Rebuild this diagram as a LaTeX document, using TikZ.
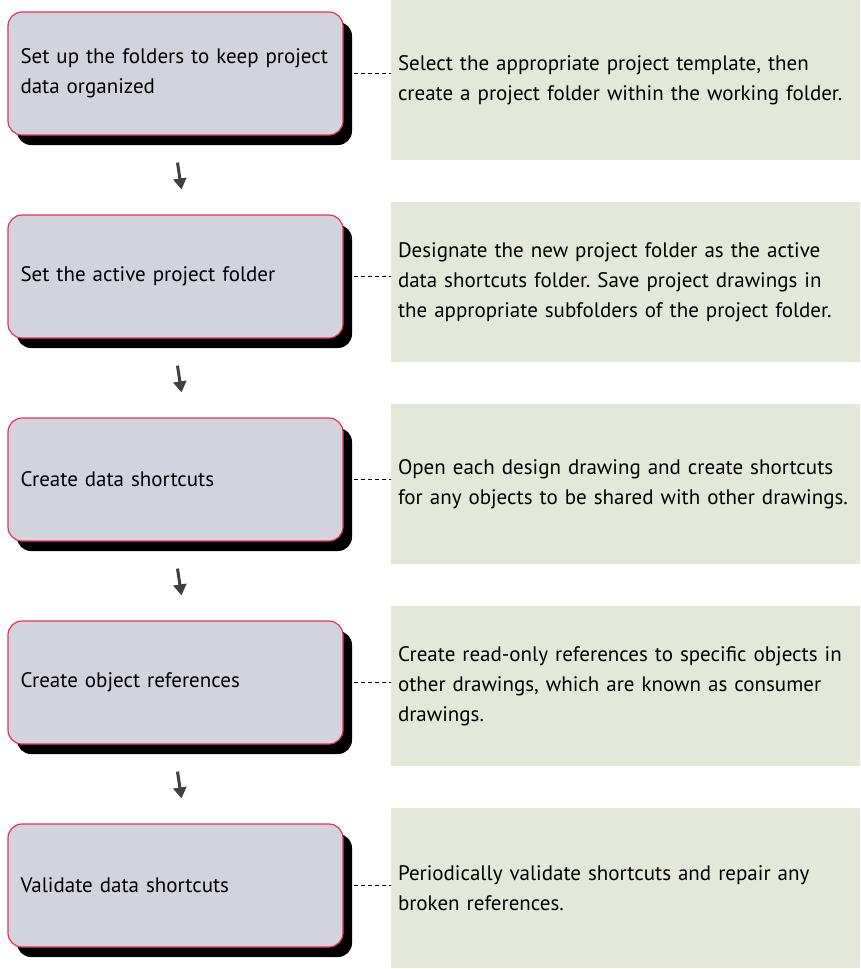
\documentclass[tikz,border=0pt]{standalone}
\usepackage{fontspec}
\setmainfont{PT Sans}
\usetikzlibrary{shadows,arrows.meta}
\definecolor{stepgray}{RGB}{211,211,222}
\definecolor{stepred}{RGB}{228,52,84}
\definecolor{notegreen}{RGB}{228,232,218}
\definecolor{arrowgray}{RGB}{64,64,64}
\tikzset{
	stepbox/.style={draw=stepred, line width=1.2pt, fill=stepgray, rounded corners=14pt,
		minimum width=335pt, minimum height=123pt, text width=310pt, inner xsep=12.5pt, align=left,
		drop shadow={shadow xshift=9pt, shadow yshift=-10pt, fill=black, opacity=1}},
	notebox/.style={fill=notegreen, minimum width=469pt, minimum height=160pt,
		text width=455pt, inner xsep=7pt, align=left},
	link/.style={black, line width=0.9pt, dash pattern=on 4pt off 3pt},
	flow/.style={arrowgray, line width=3pt, -{Triangle[width=13pt,length=11pt]}}
}
\begin{document}
\begin{tikzpicture}[x=1pt, y=-1pt, font=\fontsize{21}{30}\selectfont\frenchspacing]
		%%%%% START %%%%%
		\useasboundingbox (0, 0) rectangle (860, 969);
		
		\node[stepbox] (s1) at (175.5, 73.5) {Set up the folders to keep project\\data organized};
		\node[notebox] (n1) at (625.5, 80) {Select the appropriate project template, then\\create a project folder within the working folder.};
		
		\node[stepbox] (s2) at (175.5, 276.5) {Set the active project folder};
		\node[notebox] (n2) at (625.5, 282) {Designate the new project folder as the active\\data shortcuts folder. Save project drawings in\\the appropriate subfolders of the project folder.};
		
		\node[stepbox] (s3) at (175.5, 479.5) {Create data shortcuts};
		\node[notebox] (n3) at (625.5, 484) {Open each design drawing and create shortcuts\\for any objects to be shared with other drawings.};
		
		\node[stepbox] (s4) at (175.5, 682.5) {Create object references};
		\node[notebox] (n4) at (625.5, 686) {Create read-only references to specific objects in\\other drawings, which are known as consumer\\drawings.};
		
		\node[stepbox] (s5) at (175.5, 885.5) {Validate data shortcuts};
		\node[notebox] (n5) at (625.5, 888) {Periodically validate shortcuts and repair any\\broken references.};
		
		\draw[link] ([xshift=10pt]s1.east) -- (n1.west |- s1.east);
		\draw[link] ([xshift=10pt]s2.east) -- (n2.west |- s2.east);
		\draw[link] ([xshift=10pt]s3.east) -- (n3.west |- s3.east);
		\draw[link] ([xshift=10pt]s4.east) -- (n4.west |- s4.east);
		\draw[link] ([xshift=10pt]s5.east) -- (n5.west |- s5.east);
		
		\draw[flow] ([xshift=2pt, yshift=-27pt]s1.south) -- ([xshift=6pt, yshift=25pt]s2.north);
		\draw[flow] ([xshift=2pt, yshift=-27pt]s2.south) -- ([xshift=6pt, yshift=25pt]s3.north);
		\draw[flow] ([xshift=2pt, yshift=-27pt]s3.south) -- ([xshift=6pt, yshift=25pt]s4.north);
		\draw[flow] ([xshift=2pt, yshift=-27pt]s4.south) -- ([xshift=6pt, yshift=25pt]s5.north);
		%%%%% END %%%%%
\end{tikzpicture}
\end{document}
